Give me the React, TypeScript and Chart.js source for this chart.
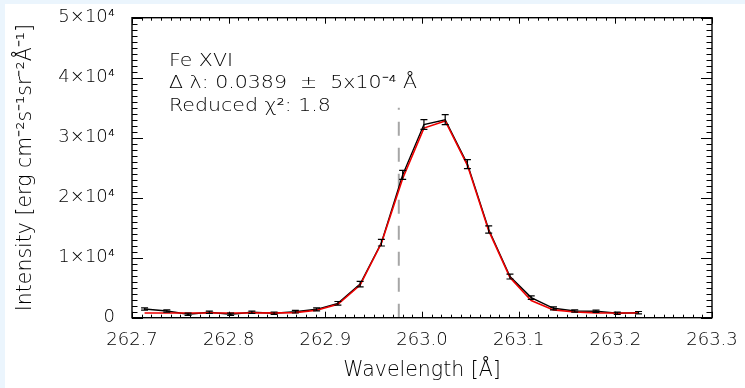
import React, { useEffect, useRef } from "react";
import { Chart, registerables } from "chart.js";

Chart.register(...registerables);

// ---- data ----
const wavelength = [
  262.713, 262.736, 262.758, 262.780, 262.802, 262.824, 262.847, 262.869,
  262.891, 262.913, 262.936, 262.958, 262.980, 263.002, 263.024, 263.047,
  263.069, 263.091, 263.113, 263.136, 263.158, 263.180, 263.202, 263.224,
];
const intensity = [
  1450, 1120, 570, 900, 570, 900, 750, 1000,
  1400, 2400, 5600, 12500, 23800, 32200, 33000, 25600,
  14700, 6850, 3350, 1570, 1120, 1070, 730, 830,
];
const intensityError = [
  200, 200, 200, 200, 200, 200, 200, 220,
  250, 300, 450, 550, 750, 800, 830, 750,
  600, 400, 300, 250, 200, 200, 200, 200,
];
const fitIntensity = [
  780, 780, 780, 780, 780, 790, 800, 850,
  1230, 2230, 5450, 12400, 23200, 31600, 32800, 25400,
  14500, 6700, 2850, 1300, 950, 800, 780, 780,
];
const referenceWavelength = [262.976, 262.976];
const referenceLevel = [0, 35000];

const xRange = [262.7, 263.3];
const yRange = [0, 50000];
const yTickLabels = ["0", "1×10⁴", "2×10⁴", "3×10⁴", "4×10⁴", "5×10⁴"];
const annotationLines = ["Fe XVI", "Δ λ: 0.0389  ±  5x10⁻⁴ Å", "Reduced χ²: 1.8"];

const FONT = '"DejaVu Sans", "Liberation Sans", sans-serif';
const TEXT_COLOR = "#000";

const framePlugin = {
  id: "idlFrame",
  afterDatasetsDraw(chart: any) {
    const { ctx, chartArea: a, scales } = chart;
    const xs = scales.x;
    const ys = scales.y;
    ctx.save();
    // error bars
    ctx.strokeStyle = "#000";
    ctx.lineWidth = 1.2;
    wavelength.forEach((w, i) => {
      const px = xs.getPixelForValue(w);
      const top = ys.getPixelForValue(intensity[i] + intensityError[i]);
      const bot = ys.getPixelForValue(intensity[i] - intensityError[i]);
      ctx.beginPath();
      ctx.moveTo(px, top);
      ctx.lineTo(px, bot);
      ctx.moveTo(px - 3.5, top);
      ctx.lineTo(px + 3.5, top);
      ctx.moveTo(px - 3.5, bot);
      ctx.lineTo(px + 3.5, bot);
      ctx.stroke();
    });
    // frame
    ctx.strokeStyle = "#000";
    ctx.lineWidth = 1.4;
    ctx.strokeRect(a.left, a.top, a.right - a.left, a.bottom - a.top);
    ctx.lineWidth = 1;
    ctx.beginPath();
    for (let k = 0; k <= 60; k++) {
      const v = xRange[0] + (k * (xRange[1] - xRange[0])) / 60;
      const px = Math.round(xs.getPixelForValue(v)) + 0.5;
      const len = k % 10 === 0 ? 6 : 3;
      ctx.moveTo(px, a.bottom);
      ctx.lineTo(px, a.bottom - len);
      ctx.moveTo(px, a.top);
      ctx.lineTo(px, a.top + len);
    }
    for (let k = 0; k <= 50; k++) {
      const v = yRange[0] + (k * (yRange[1] - yRange[0])) / 50;
      const py = Math.round(ys.getPixelForValue(v)) + 0.5;
      const len = k % 10 === 0 ? 11 : 5.5;
      ctx.moveTo(a.left, py);
      ctx.lineTo(a.left + len, py);
      ctx.moveTo(a.right, py);
      ctx.lineTo(a.right - len, py);
    }
    ctx.stroke();
    // annotation text (slightly widened like the vector font of the original)
    ctx.fillStyle = TEXT_COLOR;
    ctx.font = `200 18px ${FONT}`;
    ctx.textBaseline = "alphabetic";
    ctx.textAlign = "left";
    annotationLines.forEach((t, i) => {
      ctx.save();
      ctx.translate(a.left + 37, a.top + 48 + i * 22.5);
      ctx.scale(1.14, 1);
      ctx.fillText(t, 0, 0);
      ctx.restore();
    });
    ctx.restore();
  },
};

export default function App() {
  const canvasRef = useRef<HTMLCanvasElement | null>(null);

  useEffect(() => {
    document.body.style.margin = "0";
    document.body.style.background = "#ebf5fd";
    const canvas = canvasRef.current;
    if (!canvas) return;
    const tickFont = { family: FONT, size: 18, weight: 200 as any };
    const titleFont = { family: FONT, size: 20.5, weight: 200 as any };
    const noPad = (s: any) => {
      s.paddingTop = 0;
      s.paddingBottom = 0;
      s.paddingLeft = 0;
      s.paddingRight = 0;
    };
    const chart = new Chart(canvas, {
      type: "line",
      data: {
        datasets: [
          {
            label: "fit",
            data: wavelength.map((x, i) => ({ x, y: fitIntensity[i] })),
            borderColor: "#ee0000",
            borderWidth: 1.6,
            pointRadius: 0,
            order: 0,
          },
          {
            label: "data",
            data: wavelength.map((x, i) => ({ x, y: intensity[i] })),
            borderColor: "#000",
            borderWidth: 1.4,
            pointRadius: 0,
            order: 1,
          },
          {
            label: "reference",
            data: referenceWavelength.map((x, i) => ({ x, y: referenceLevel[i] })),
            borderColor: "#a6a6a6",
            borderWidth: 2,
            borderDash: [14, 12],
            pointRadius: 0,
            order: 2,
          },
        ],
      },
      options: {
        responsive: false,
        animation: false,
        events: [],
        layout: { padding: { top: 13.7, right: 33, left: 0, bottom: 0 } },
        plugins: { legend: { display: false }, tooltip: { enabled: false } },
        scales: {
          x: {
            type: "linear",
            min: xRange[0],
            max: xRange[1],
            grid: { display: false, drawTicks: false },
            border: { display: false },
            ticks: {
              stepSize: 0.1,
              autoSkip: false,
              maxRotation: 0,
              padding: 12,
              color: TEXT_COLOR,
              font: tickFont,
              callback: (v: any) => Number(v).toFixed(1),
            },
            title: {
              display: true,
              text: "Wavelength [Å]",
              color: TEXT_COLOR,
              font: titleFont,
              padding: { top: 2, bottom: 5 },
            },
            afterFit: (s: any) => {
              s.height = 70.3;
              noPad(s);
            },
          },
          y: {
            type: "linear",
            min: yRange[0],
            max: yRange[1],
            grid: { display: false, drawTicks: false },
            border: { display: false },
            ticks: {
              stepSize: 10000,
              padding: 17,
              color: TEXT_COLOR,
              font: tickFont,
              callback: (v: any) => yTickLabels[Math.round(Number(v) / 10000)],
            },
            title: {
              display: true,
              text: "Intensity [erg cm⁻²s⁻¹sr⁻²Å⁻¹]",
              color: TEXT_COLOR,
              font: titleFont,
              padding: { top: 8, bottom: 0 },
            },
            afterFit: (s: any) => {
              s.width = 127;
              noPad(s);
            },
          },
        },
      },
      plugins: [framePlugin],
    });
    return () => chart.destroy();
  }, []);

  return (
    <div style={{ position: "relative", width: 745, height: 388, background: "#ebf5fd", overflow: "hidden" }}>
      <canvas
        ref={canvasRef}
        width={740}
        height={384}
        style={{ position: "absolute", left: 5, top: 4, width: 740, height: 384, background: "#fff" }}
      />
    </div>
  );
}
